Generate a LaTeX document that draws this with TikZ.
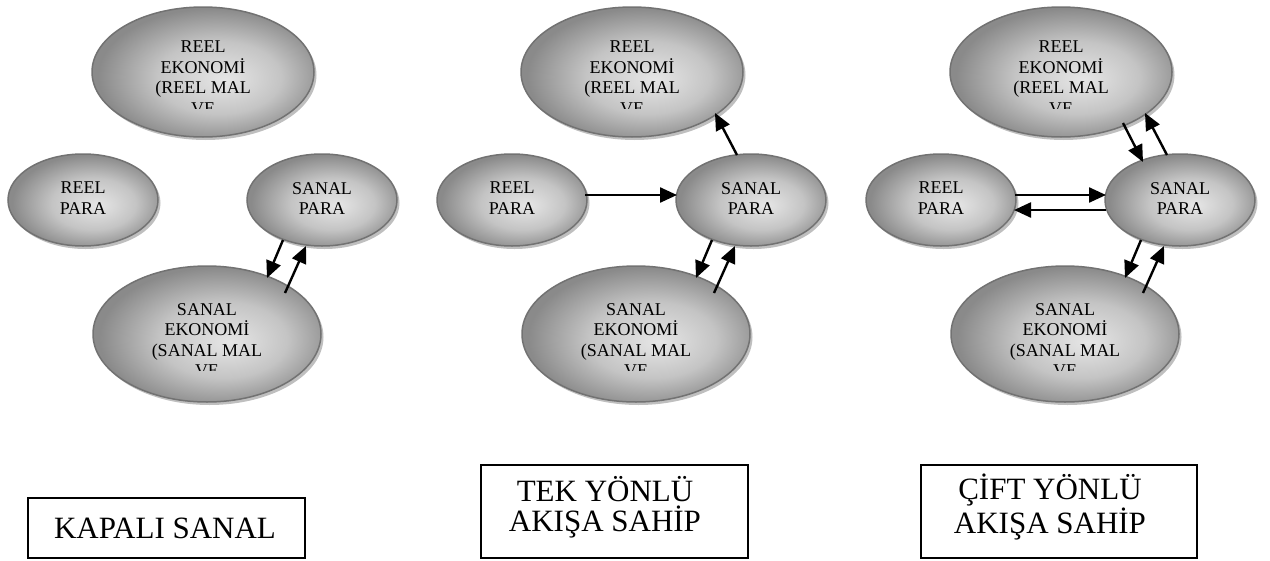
\documentclass[tikz,border=0pt]{standalone}
\usepackage{fontspec}
\setmainfont{Liberation Serif}
\usetikzlibrary{shapes.geometric,arrows.meta,shadows,calc}
\definecolor{shLight}{HTML}{E6E6E6}
\definecolor{shMid}{HTML}{C4C4C4}
\definecolor{shDark}{HTML}{8A8A8A}
\definecolor{rimgray}{HTML}{727272}
\pgfdeclareradialshading{ellsh}{\pgfpoint{5bp}{-3bp}}{color(0bp)=(shLight); color(14bp)=(shMid); color(26bp)=(shDark); color(50bp)=(shDark)}
\begin{document}
\begin{tikzpicture}[x=1pt,y=-1pt,
  ell/.style={ellipse, draw=rimgray, line width=1.5pt, shading=ellsh, inner sep=0pt,
    drop shadow={shadow xshift=2.5pt,shadow yshift=-3pt,fill=black!25,opacity=1}},
  bigell/.style={ell, minimum width=222pt, minimum height=130pt},
  lowell/.style={ell, minimum width=228pt, minimum height=136pt},
  smallell/.style={ell, minimum width=150pt, minimum height=92pt},
  etext/.style={font=\fontsize{18}{20.5}\selectfont, align=center, inner sep=0pt},
  arr/.style={line width=2.4pt, -{Triangle[length=17pt,width=15pt]}},
  boxnode/.style={draw, line width=1.6pt, inner sep=0pt},
  btext/.style={font=\fontsize{31}{30}\selectfont, align=center, inner sep=0pt}
]
\useasboundingbox (0,0) rectangle (1270,560);

\foreach \p/\o in {1/0,2/429,3/858}{
  \node[bigell] (re\p) at (203+\o,72) {};
  \node[smallell] (rp\p) at (83+\o,200) {};
  \node[smallell] (sp\p) at (322+\o,200) {};
  \node[lowell] (se\p) at (207+\o,334) {};
  \begin{scope}
    \clip (90+\o,0) rectangle (320+\o,108);
    \node[etext, anchor=north] (ret\p) at (203+\o,41) {REEL\\EKONOMİ\\(REEL MAL\\VE};
  \end{scope}
  \begin{scope}
    \clip (90+\o,280) rectangle (325+\o,370);
    \node[etext, anchor=north] (set\p) at (207+\o,303) {SANAL\\EKONOMİ\\(SANAL MAL\\VE};
  \end{scope}
  \node[etext, anchor=north] (rpt\p) at (83+\o,182) {REEL\\PARA};
  \node[etext, anchor=north] (spt\p) at (322+\o,182) {SANAL\\PARA};
  \draw[arr] ($(sp\p)+(-39,40)$) -- ($(se\p)+(60,-56)$);
  \draw[arr] ($(se\p)+(78,-41)$) -- ($(sp\p)+(-16,46)$);
}

% panel 2
\draw[arr] ($(rp2)+(73,-5)$) -- ($(sp2)+(-74,-5)$);
\draw[arr] ($(sp2)+(-14,-45)$) -- ($(re2)+(83,41)$);
% panel 3
\draw[arr] ($(rp3)+(74,-5)$) -- ($(sp3)+(-74,-5)$);
\draw[arr] ($(sp3)+(-74,10)$) -- ($(rp3)+(73,10)$);
\draw[arr] ($(re3)+(62,51)$) -- ($(sp3)+(-37,-38)$);
\draw[arr] ($(sp3)+(-13,-45)$) -- ($(re3)+(84,41)$);

% boxes
\node[boxnode, minimum width=277pt, minimum height=60pt] (box1) at (166.5,528) {};
\node[btext] (box1t) at (165,528) {KAPALI SANAL};
\node[boxnode, minimum width=267pt, minimum height=93pt] (box2) at (614.5,511.5) {};
\node[btext] (box2t) at (605,507) {TEK YÖNLÜ\\AKIŞA SAHİP};
\node[boxnode, minimum width=276pt, minimum height=93pt] (box3) at (1059,511.5) {};
\node[btext] (box3t) at (1050,507) {ÇİFT YÖNLÜ\\AKIŞA SAHİP};
\end{tikzpicture}
\end{document}
